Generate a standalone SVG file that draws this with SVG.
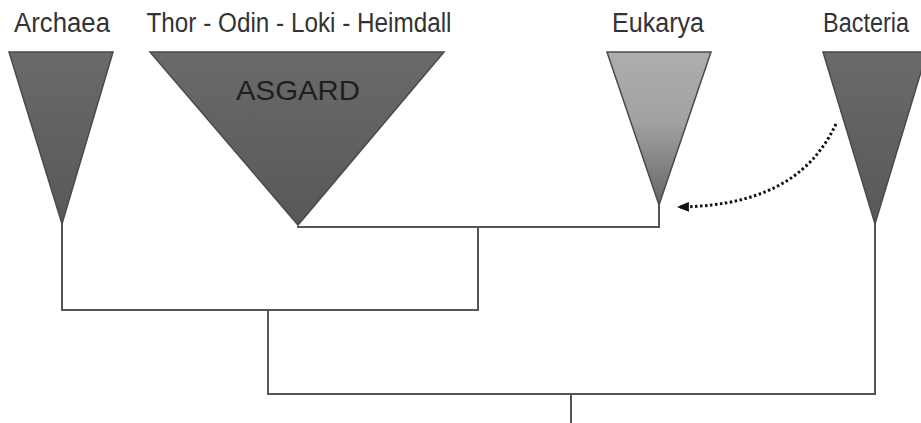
<svg xmlns="http://www.w3.org/2000/svg" width="921" height="423" viewBox="0 0 921 423">
<style>
  .lbl { font-family: "Liberation Sans", Arial, sans-serif; font-size: 27px; fill: #333; text-anchor: middle; }
  .big { font-family: "Liberation Sans", Arial, sans-serif; font-size: 28px; fill: #1e1e1e; text-anchor: middle; }
  .tri { stroke: #4a4a4a; stroke-width: 1.5; stroke-linejoin: miter; }
  .edge { fill: none; stroke: #555; stroke-width: 2; stroke-linecap: square; }
  .hgt { fill: none; stroke: #111; stroke-width: 3; stroke-dasharray: 2.5 2.5; }
</style>
<defs>
  <linearGradient id="dark" x1="0" y1="0" x2="0" y2="1">
    <stop offset="0" stop-color="#6a6a6a"/>
    <stop offset="1" stop-color="#585858"/>
  </linearGradient>
  <linearGradient id="light" x1="0" y1="0" x2="0" y2="1">
    <stop offset="0" stop-color="#adadad"/>
    <stop offset="0.45" stop-color="#a2a2a2"/>
    <stop offset="1" stop-color="#666"/>
  </linearGradient>
  <marker id="ah" viewBox="0 0 12 10" refX="11" refY="5" markerWidth="4" markerHeight="3.3" orient="auto">
    <path d="M0,0 L12,5 L0,10 Z" fill="#111"/>
  </marker>
</defs>
<rect width="921" height="423" fill="#fff"/>
<g id="connectors">
  <path class="edge" d="M62,224 V310 H478 V227"/>
  <path class="edge" d="M298,227 H659 V205"/>
  <path class="edge" d="M268,310 V394 H875 V224"/>
  <path class="edge" d="M571,394 V423"/>
  <path class="hgt" d="M836,124 C815,168 775,206 678,207" marker-end="url(#ah)"/>
</g>
<g id="archaea">
  <polygon class="tri" points="9,52 113,52 62,224" fill="url(#dark)"/>
  <text class="lbl" x="62" y="32" textLength="96" lengthAdjust="spacingAndGlyphs">Archaea</text>
</g>
<g id="asgard">
  <polygon class="tri" points="150,52 444,52 298,225" fill="url(#dark)"/>
  <text class="lbl" x="299" y="32" textLength="305" lengthAdjust="spacingAndGlyphs">Thor - Odin - Loki - Heimdall</text>
  <text class="big" x="298" y="100" textLength="124" lengthAdjust="spacingAndGlyphs">ASGARD</text>
</g>
<g id="eukarya">
  <polygon class="tri" points="607,52 711,52 659,205" fill="url(#light)"/>
  <text class="lbl" x="658" y="32" textLength="92" lengthAdjust="spacingAndGlyphs">Eukarya</text>
</g>
<g id="bacteria">
  <polygon class="tri" points="823,52 927,52 875,224" fill="url(#dark)"/>
  <text class="lbl" x="866" y="32" font-size="25" textLength="86" lengthAdjust="spacingAndGlyphs">Bacteria</text>
</g>
</svg>
